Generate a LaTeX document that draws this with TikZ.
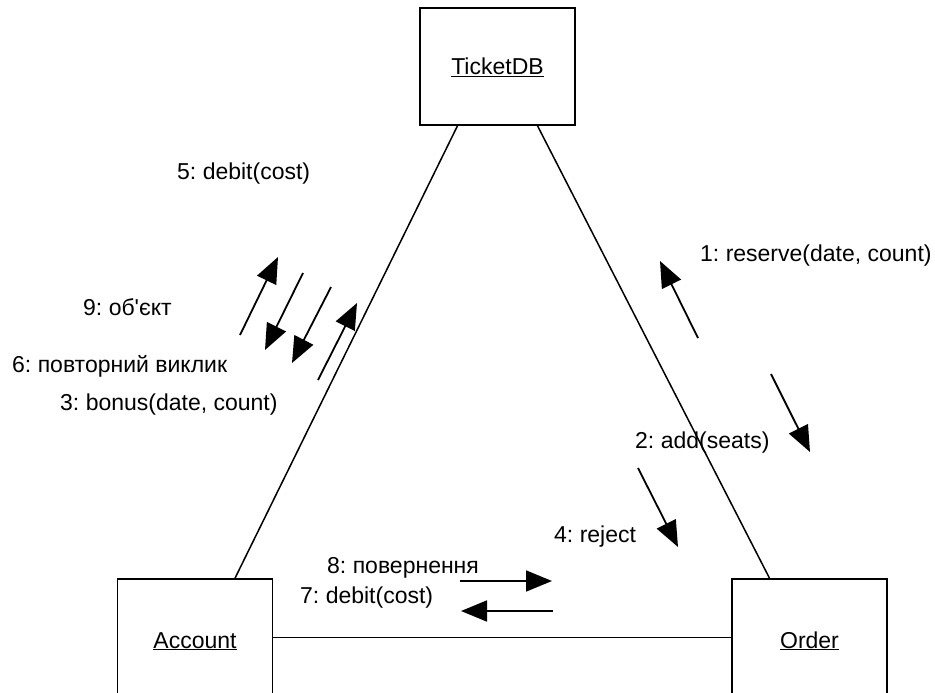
\documentclass[tikz,border=0pt]{standalone}
\usepackage{fontspec}
\setmainfont{Liberation Sans}
\usetikzlibrary{arrows.meta}
\frenchspacing
\begin{document}
\begin{tikzpicture}[x=1pt,y=-1pt,
  obj/.style={draw=black, line width=1.6pt, fill=white, minimum width=155pt, minimum height=117pt, inner sep=0pt},
  objname/.style={anchor=base, inner sep=0pt, font=\fontsize{23}{27}\selectfont},
  msg/.style={anchor=base west, inner sep=0pt, font=\fontsize{23}{27}\selectfont},
  link/.style={line width=1.5pt},
  flow/.style={line width=1.8pt, -{Triangle[length=26pt,width=21pt]}}]
\useasboundingbox (0,0) rectangle (935,693);
\clip (0,0) rectangle (935,693);

% objects
\node[obj] (tdb) at (497.5,66.5) {};
\node[obj] (acc) at (195,637.5) {};
\node[obj] (ord) at (809.5,637.5) {};
\node[objname] (tdbname) at (497.5,75) {\underline{TicketDB}};
\node[objname] (accname) at (195,648) {\underline{Account}};
\node[objname] (ordname) at (809.5,648) {\underline{Order}};

% links
\draw[link] ([xshift=-40pt]tdb.south) -- ([xshift=40pt]acc.north);
\draw[link] ([xshift=40pt]tdb.south) -- ([xshift=-40pt]ord.north);
\draw[link] (acc.east) -- (ord.west);

% message arrow end points
\coordinate (a1) at (240,335); \coordinate (a2) at (278,257);
\coordinate (b1) at (303,273); \coordinate (b2) at (265,350);
\coordinate (c1) at (331,287); \coordinate (c2) at (292,363);
\coordinate (d1) at (318,380); \coordinate (d2) at (357,303);
\coordinate (e1) at (698,338); \coordinate (e2) at (660,261);
\coordinate (f1) at (771,374); \coordinate (f2) at (810,452);
\coordinate (g1) at (638,468); \coordinate (g2) at (678,547);
\coordinate (h1) at (460,581); \coordinate (h2) at (552,581);
\coordinate (i1) at (553,611); \coordinate (i2) at (461,611);

\draw[flow] (a1) -- (a2);
\draw[flow] (b1) -- (b2);
\draw[flow] (c1) -- (c2);
\draw[flow] (d1) -- (d2);
\draw[flow] (e1) -- (e2);
\draw[flow] (f1) -- (f2);
\draw[flow] (g1) -- (g2);
\draw[flow] (h1) -- (h2);
\draw[flow] (i1) -- (i2);

% message labels
\node[msg] (m5) at (177,179) {5: debit(cost)};
\node[msg] (m9) at (83,315) {9: об\textquotesingle єкт};
\node[msg] (m6) at (12,372) {6: повторний виклик};
\node[msg] (m3) at (60,410) {3: bonus(date, count)};
\node[msg] (m1) at (700,261) {1: reserve(date, count)};
\node[msg] (m2) at (635,448) {2: add(seats)};
\node[msg] (m4) at (554,542) {4: reject};
\node[msg] (m8) at (327,573) {8: повернення};
\node[msg] (m7) at (300,603) {7: debit(cost)};
\end{tikzpicture}
\end{document}
